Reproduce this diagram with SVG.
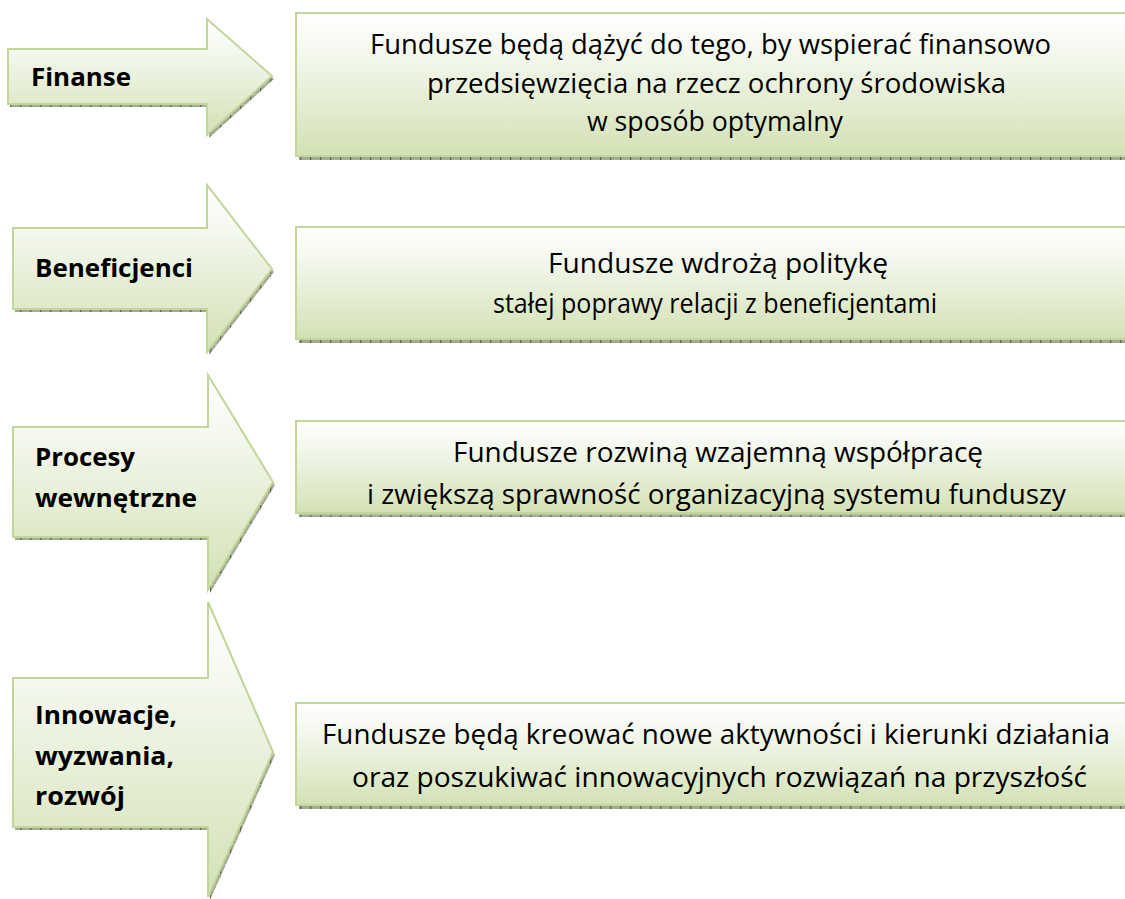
<svg xmlns="http://www.w3.org/2000/svg" width="1125" height="899" viewBox="0 0 1125 899">
<defs>
<linearGradient id="g" x1="0" y1="0" x2="0" y2="1">
<stop offset="0" stop-color="#ffffff"/>
<stop offset="0.3" stop-color="#f3f7ec"/>
<stop offset="1" stop-color="#d3e1b5"/>
</linearGradient>
<pattern id="sh" width="10" height="10" patternUnits="userSpaceOnUse">
<rect width="10" height="10" fill="#a3aa96"/>
<rect x="0" width="1.3" height="10" fill="#5f6b4c"/>
<rect y="4" width="10" height="1" fill="#bcc2b0"/>
</pattern>
<style>
.node{fill:url(#g);stroke:#c2d59a;stroke-width:2}
.shadow{fill:url(#sh)}
.lbl{font-family:"Open Sans","Liberation Sans",sans-serif;font-weight:bold;font-size:25px;fill:#000}
.txt{font-family:"Open Sans","Liberation Sans",sans-serif;font-size:28px;fill:#000}
</style>
</defs>
<rect width="1125" height="899" fill="#ffffff"/>

<g id="arrow-finanse">
<path class="shadow" d="M10,52 H209 V22 L274,79 L209,138 V107 H10 Z"/>
<path class="node" d="M8,49 H207 V19 L272,76 L207,135 V104 H8 Z"/>
<text class="lbl" x="31" y="86" textLength="100" lengthAdjust="spacingAndGlyphs">Finanse</text>
</g>
<g id="box-finanse">
<rect class="shadow" x="299" y="156" width="830" height="4"/>
<rect class="node" x="296" y="13" width="840" height="143"/>
<text class="txt" x="370" y="54" textLength="681" lengthAdjust="spacingAndGlyphs">Fundusze będą dążyć do tego, by wspierać finansowo</text>
<text class="txt" x="427" y="93" textLength="579" lengthAdjust="spacingAndGlyphs">przedsięwzięcia na rzecz ochrony środowiska</text>
<text class="txt" x="587" y="131" textLength="256" lengthAdjust="spacingAndGlyphs">w sposób optymalny</text>
</g>

<g id="arrow-beneficjenci">
<path class="shadow" d="M15,231 H209 V188 L274,272 L209,355 V312 H15 Z"/>
<path class="node" d="M13,228 H207 V185 L272,269 L207,352 V309 H13 Z"/>
<text class="lbl" x="35" y="277" textLength="158" lengthAdjust="spacingAndGlyphs">Beneficjenci</text>
</g>
<g id="box-beneficjenci">
<rect class="shadow" x="299" y="339" width="830" height="4"/>
<rect class="node" x="296" y="227" width="840" height="112"/>
<text class="txt" x="548" y="273" textLength="340" lengthAdjust="spacingAndGlyphs">Fundusze wdrożą politykę</text>
<text class="txt" x="493" y="313" textLength="444" lengthAdjust="spacingAndGlyphs">stałej poprawy relacji z beneficjentami</text>
</g>

<g id="arrow-procesy">
<path class="shadow" d="M15,430 H210 V378 L275,485 L210,593 V540 H15 Z"/>
<path class="node" d="M13,427 H208 V375 L273,482 L208,590 V537 H13 Z"/>
<text class="lbl" x="35" y="466" textLength="100" lengthAdjust="spacingAndGlyphs">Procesy</text>
<text class="lbl" x="35" y="507" textLength="162" lengthAdjust="spacingAndGlyphs">wewnętrzne</text>
</g>
<g id="box-procesy">
<rect class="shadow" x="299" y="513" width="830" height="4"/>
<rect class="node" x="296" y="421" width="840" height="92"/>
<text class="txt" x="453" y="462" textLength="530" lengthAdjust="spacingAndGlyphs">Fundusze rozwiną wzajemną współpracę</text>
<text class="txt" x="367" y="504" textLength="699" lengthAdjust="spacingAndGlyphs">i zwiększą sprawność organizacyjną systemu funduszy</text>
</g>

<g id="arrow-innowacje">
<path class="shadow" d="M15,681 H210 V605 L275,755 L210,900 V830 H15 Z"/>
<path class="node" d="M13,678 H208 V602 L273,752 L208,897 V827 H13 Z"/>
<text class="lbl" x="35" y="724" textLength="142" lengthAdjust="spacingAndGlyphs">Innowacje,</text>
<text class="lbl" x="35" y="765" textLength="139" lengthAdjust="spacingAndGlyphs">wyzwania,</text>
<text class="lbl" x="35" y="805" textLength="90" lengthAdjust="spacingAndGlyphs">rozwój</text>
</g>
<g id="box-innowacje">
<rect class="shadow" x="299" y="805" width="830" height="4"/>
<rect class="node" x="296" y="703" width="840" height="102"/>
<text class="txt" x="322" y="744" textLength="788" lengthAdjust="spacingAndGlyphs">Fundusze będą kreować nowe aktywności i kierunki działania</text>
<text class="txt" x="352" y="787" textLength="735" lengthAdjust="spacingAndGlyphs">oraz poszukiwać innowacyjnych rozwiązań na przyszłość</text>
</g>

<g id="connectors"></g>
</svg>
